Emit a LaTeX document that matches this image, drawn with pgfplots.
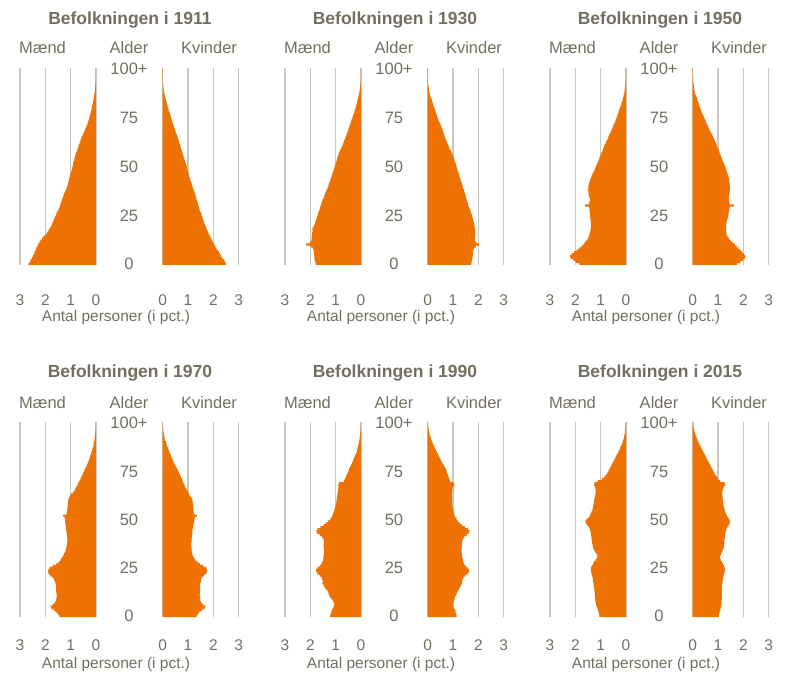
\documentclass[border=0pt]{standalone}
\usepackage{pgfplots}
\usepackage{pgfplotstable}
\pgfplotsset{compat=1.18}
\usepackage{fontspec}
\setmainfont{Liberation Sans}
\definecolor{bar}{RGB}{238,114,3}
\definecolor{txt}{RGB}{115,111,96}
\definecolor{grd}{RGB}{200,200,190}

\pgfplotstableread{
age m11 f11 m30 f30 m50 f50 m70 f70 m90 f90 m15 f15
0 2.67 2.50 1.79 1.71 1.84 1.76 1.45 1.34 1.22 1.14 1.05 1.03
1 2.60 2.46 1.80 1.73 1.98 1.88 1.50 1.40 1.20 1.12 1.06 1.04
2 2.58 2.42 1.83 1.75 2.08 1.98 1.56 1.45 1.17 1.10 1.08 1.06
3 2.52 2.36 1.84 1.76 2.18 2.06 1.65 1.55 1.15 1.08 1.10 1.08
4 2.49 2.31 1.84 1.77 2.22 2.08 1.76 1.65 1.11 1.04 1.13 1.10
5 2.45 2.26 1.85 1.78 2.15 2.03 1.79 1.68 1.07 1.00 1.16 1.12
6 2.42 2.22 1.86 1.79 2.05 1.96 1.70 1.60 1.05 0.99 1.18 1.13
7 2.38 2.17 1.87 1.80 1.95 1.89 1.62 1.52 1.08 1.01 1.20 1.14
8 2.36 2.12 1.89 1.82 1.86 1.81 1.58 1.49 1.12 1.04 1.21 1.14
9 2.31 2.08 1.98 1.90 1.76 1.73 1.56 1.48 1.17 1.06 1.22 1.15
10 2.28 2.03 2.17 2.03 1.68 1.66 1.55 1.47 1.22 1.08 1.22 1.15
11 2.24 1.99 2.02 1.92 1.62 1.58 1.54 1.46 1.26 1.12 1.23 1.15
12 2.20 1.95 1.96 1.86 1.56 1.50 1.56 1.47 1.29 1.15 1.24 1.15
13 2.14 1.92 1.95 1.86 1.51 1.43 1.57 1.48 1.32 1.18 1.25 1.15
14 2.08 1.88 1.94 1.87 1.48 1.38 1.57 1.48 1.38 1.23 1.25 1.15
15 1.99 1.84 1.94 1.87 1.45 1.34 1.58 1.47 1.45 1.28 1.26 1.15
16 1.93 1.80 1.93 1.88 1.43 1.33 1.57 1.47 1.48 1.32 1.27 1.16
17 1.88 1.77 1.90 1.86 1.41 1.32 1.60 1.49 1.52 1.36 1.28 1.17
18 1.84 1.73 1.92 1.87 1.40 1.32 1.63 1.51 1.50 1.35 1.30 1.18
19 1.79 1.70 1.88 1.85 1.39 1.32 1.66 1.52 1.53 1.39 1.31 1.19
20 1.75 1.67 1.84 1.84 1.39 1.32 1.71 1.55 1.56 1.42 1.32 1.20
21 1.72 1.64 1.82 1.82 1.39 1.33 1.80 1.63 1.63 1.49 1.34 1.22
22 1.68 1.62 1.79 1.80 1.40 1.35 1.87 1.71 1.72 1.58 1.36 1.24
23 1.65 1.59 1.76 1.78 1.41 1.37 1.89 1.75 1.76 1.63 1.38 1.26
24 1.61 1.56 1.73 1.76 1.41 1.39 1.88 1.74 1.77 1.64 1.39 1.27
25 1.58 1.54 1.71 1.74 1.42 1.41 1.82 1.70 1.70 1.57 1.38 1.26
26 1.55 1.51 1.69 1.71 1.43 1.42 1.70 1.60 1.62 1.50 1.35 1.23
27 1.52 1.48 1.66 1.69 1.44 1.43 1.56 1.47 1.56 1.44 1.30 1.19
28 1.48 1.46 1.63 1.66 1.44 1.44 1.47 1.38 1.52 1.41 1.26 1.15
29 1.45 1.43 1.61 1.64 1.46 1.46 1.40 1.29 1.50 1.39 1.20 1.10
30 1.42 1.41 1.58 1.61 1.62 1.63 1.36 1.23 1.49 1.37 1.15 1.08
31 1.40 1.39 1.56 1.59 1.46 1.46 1.31 1.19 1.48 1.36 1.13 1.08
32 1.37 1.37 1.53 1.57 1.44 1.44 1.27 1.17 1.47 1.35 1.16 1.11
33 1.34 1.34 1.51 1.54 1.42 1.43 1.23 1.15 1.46 1.34 1.21 1.15
34 1.31 1.32 1.48 1.52 1.44 1.43 1.20 1.14 1.46 1.34 1.25 1.18
35 1.29 1.30 1.45 1.50 1.47 1.43 1.18 1.14 1.47 1.34 1.29 1.21
36 1.26 1.27 1.42 1.48 1.48 1.45 1.16 1.13 1.48 1.35 1.31 1.23
37 1.22 1.25 1.39 1.45 1.49 1.46 1.15 1.13 1.48 1.36 1.32 1.24
38 1.19 1.22 1.36 1.43 1.50 1.47 1.14 1.13 1.46 1.35 1.34 1.25
39 1.16 1.20 1.32 1.40 1.49 1.47 1.13 1.14 1.47 1.37 1.35 1.25
40 1.13 1.17 1.29 1.38 1.49 1.47 1.13 1.14 1.49 1.41 1.36 1.26
41 1.11 1.14 1.27 1.35 1.47 1.46 1.14 1.15 1.53 1.45 1.37 1.27
42 1.09 1.12 1.24 1.33 1.45 1.45 1.15 1.16 1.62 1.54 1.38 1.28
43 1.07 1.09 1.21 1.30 1.42 1.44 1.16 1.17 1.73 1.62 1.40 1.29
44 1.05 1.07 1.19 1.28 1.39 1.43 1.17 1.17 1.76 1.65 1.41 1.31
45 1.03 1.04 1.16 1.25 1.36 1.41 1.18 1.18 1.72 1.60 1.43 1.33
46 1.01 1.02 1.13 1.23 1.33 1.38 1.19 1.20 1.60 1.47 1.46 1.37
47 0.99 1.00 1.11 1.21 1.29 1.36 1.20 1.21 1.48 1.36 1.52 1.42
48 0.96 0.98 1.08 1.18 1.25 1.33 1.21 1.23 1.39 1.28 1.57 1.46
49 0.94 0.96 1.06 1.16 1.22 1.31 1.22 1.24 1.30 1.20 1.60 1.48
50 0.92 0.95 1.03 1.14 1.18 1.28 1.22 1.25 1.22 1.14 1.56 1.45
51 0.90 0.92 1.01 1.11 1.15 1.25 1.24 1.27 1.17 1.10 1.48 1.39
52 0.89 0.90 0.99 1.09 1.12 1.22 1.30 1.35 1.13 1.06 1.43 1.35
53 0.87 0.88 0.96 1.06 1.09 1.18 1.16 1.24 1.10 1.04 1.40 1.31
54 0.85 0.85 0.94 1.04 1.06 1.15 1.14 1.22 1.07 1.02 1.36 1.28
55 0.83 0.83 0.92 1.01 1.03 1.12 1.13 1.21 1.05 0.99 1.33 1.26
56 0.80 0.81 0.89 0.98 1.00 1.09 1.13 1.21 1.03 0.98 1.31 1.24
57 0.78 0.78 0.86 0.94 0.97 1.06 1.12 1.20 1.01 0.97 1.30 1.22
58 0.75 0.76 0.83 0.91 0.93 1.03 1.11 1.19 0.99 0.96 1.28 1.21
59 0.73 0.73 0.79 0.87 0.90 1.00 1.10 1.18 0.97 0.95 1.27 1.20
60 0.70 0.71 0.76 0.84 0.87 0.97 1.09 1.17 0.96 0.95 1.26 1.19
61 0.68 0.69 0.73 0.81 0.84 0.94 1.07 1.14 0.95 0.95 1.24 1.18
62 0.65 0.66 0.70 0.78 0.80 0.91 1.03 1.09 0.94 0.95 1.22 1.17
63 0.62 0.64 0.67 0.75 0.77 0.88 0.98 1.04 0.93 0.96 1.21 1.17
64 0.60 0.61 0.64 0.71 0.73 0.85 0.90 0.99 0.91 0.96 1.20 1.17
65 0.57 0.59 0.61 0.68 0.70 0.82 0.84 0.96 0.90 0.96 1.20 1.18
66 0.53 0.56 0.58 0.66 0.67 0.78 0.81 0.93 0.89 0.98 1.21 1.20
67 0.50 0.53 0.55 0.63 0.63 0.74 0.77 0.89 0.89 1.01 1.23 1.23
68 0.46 0.50 0.52 0.60 0.60 0.70 0.73 0.86 0.89 1.05 1.26 1.28
69 0.43 0.48 0.50 0.58 0.56 0.66 0.70 0.82 0.86 1.02 1.24 1.26
70 0.39 0.45 0.47 0.55 0.53 0.62 0.66 0.79 0.68 0.89 1.10 1.08
71 0.36 0.43 0.44 0.52 0.50 0.59 0.62 0.76 0.64 0.86 0.95 0.99
72 0.33 0.40 0.42 0.49 0.46 0.55 0.58 0.72 0.60 0.83 0.85 0.95
73 0.31 0.38 0.39 0.45 0.43 0.52 0.54 0.69 0.57 0.80 0.79 0.90
74 0.28 0.35 0.37 0.42 0.40 0.48 0.51 0.65 0.53 0.77 0.74 0.86
75 0.26 0.33 0.34 0.39 0.37 0.45 0.47 0.62 0.50 0.75 0.70 0.82
76 0.24 0.31 0.31 0.36 0.34 0.42 0.44 0.58 0.47 0.72 0.66 0.78
77 0.22 0.28 0.29 0.34 0.32 0.38 0.40 0.54 0.43 0.68 0.62 0.74
78 0.20 0.26 0.26 0.31 0.29 0.35 0.37 0.50 0.40 0.64 0.58 0.70
79 0.18 0.23 0.24 0.29 0.27 0.32 0.33 0.46 0.36 0.59 0.54 0.66
80 0.17 0.21 0.21 0.26 0.24 0.29 0.30 0.42 0.33 0.55 0.50 0.62
81 0.15 0.19 0.19 0.23 0.21 0.26 0.27 0.39 0.30 0.51 0.46 0.58
82 0.13 0.17 0.17 0.21 0.18 0.24 0.24 0.35 0.27 0.47 0.42 0.54
83 0.11 0.15 0.15 0.18 0.16 0.21 0.22 0.32 0.23 0.43 0.38 0.50
84 0.10 0.13 0.13 0.16 0.13 0.18 0.19 0.29 0.20 0.40 0.34 0.46
85 0.08 0.11 0.11 0.13 0.11 0.16 0.17 0.26 0.17 0.36 0.30 0.42
86 0.07 0.09 0.09 0.11 0.09 0.13 0.15 0.23 0.15 0.32 0.26 0.38
87 0.06 0.08 0.08 0.09 0.08 0.11 0.12 0.20 0.13 0.28 0.23 0.34
88 0.05 0.06 0.06 0.07 0.06 0.09 0.10 0.17 0.11 0.25 0.19 0.30
89 0.04 0.05 0.05 0.06 0.05 0.07 0.09 0.15 0.09 0.21 0.16 0.26
90 0.03 0.04 0.04 0.05 0.04 0.06 0.08 0.13 0.08 0.18 0.13 0.22
91 0.025 0.03 0.03 0.04 0.03 0.05 0.06 0.10 0.06 0.15 0.11 0.19
92 0.02 0.025 0.02 0.03 0.02 0.04 0.05 0.08 0.05 0.13 0.08 0.16
93 0.015 0.02 0.015 0.02 0.015 0.03 0.04 0.07 0.04 0.10 0.07 0.13
94 0.012 0.015 0.01 0.015 0.01 0.025 0.03 0.05 0.03 0.08 0.05 0.11
95 0.01 0.01 0.01 0.01 0.008 0.02 0.02 0.04 0.02 0.07 0.04 0.09
96 0.007 0.007 0.006 0.008 0.006 0.015 0.015 0.03 0.015 0.05 0.03 0.07
97 0.005 0.005 0.004 0.006 0.004 0.01 0.01 0.02 0.01 0.04 0.02 0.05
98 0.003 0.003 0.003 0.004 0.003 0.007 0.007 0.015 0.007 0.03 0.015 0.04
99 0.002 0.002 0.002 0.003 0.002 0.005 0.005 0.01 0.005 0.02 0.01 0.03
100 0.002 0.002 0.002 0.003 0.002 0.004 0.004 0.01 0.004 0.02 0.01 0.03
}\pop

\pgfplotsset{
  pyr/.style={
    scale only axis, width=76pt,
    xmin=0, xmax=3, ymin=-0.5, ymax=100.5,
    axis line style={draw=none}, major tick length=0pt,
    xtick={0,1,2,3}, xticklabels={0,1,2,3},
    xmajorgrids, grid style={grd, line width=1.1pt},
    /pgf/number format/assume math mode=true,
    xticklabel style={anchor=base, font=\fontsize{15.5}{18}\selectfont, text=txt},
    xbar, bar width=1.1,
  },
  male/.style={pyr, x dir=reverse, ytick=\empty},
  female/.style={pyr, ytick={0,25,50,75,100}, yticklabels={0,25,50,75,100+},
    yticklabel style={anchor=base, xshift=-33.7pt, yshift=-5.9pt,
      font=\fontsize{16.5}{19}\selectfont, text=txt}},
  row1/.style={height=197pt, xticklabel style={yshift=-41pt}},
  row2/.style={height=195pt, xticklabel style={yshift=-33pt}},
}

\newcommand{\pan}[6]{% male x, female x, bottom y, male col, female col, row style
  \begin{axis}[male, #6, at={(#1pt,#3pt)}, anchor=south west]
    \addplot[fill=bar, draw=none] table[x=#4, y=age] {\pop};
  \end{axis}
  \begin{axis}[female, #6, at={(#2pt,#3pt)}, anchor=south west]
    \addplot[fill=bar, draw=none] table[x=#5, y=age] {\pop};
  \end{axis}
}

\newcommand{\labs}[4]{% dx, title baseline y, header baseline y, xlabel baseline y; #5 year
}
\newcommand{\ptext}[5]{% dx, title y, header y, xlabel y, year
  \node[anchor=base, text=txt, font=\bfseries\fontsize{17.5}{20}\selectfont] at (130+#1, #2) {Befolkningen i #5};
  \node[anchor=base, text=txt, font=\fontsize{16.5}{19}\selectfont] at (42.5+#1, #3) {Mænd};
  \node[anchor=base, text=txt, font=\fontsize{16.5}{19}\selectfont] at (129+#1, #3) {Alder};
  \node[anchor=base, text=txt, font=\fontsize{16.5}{19}\selectfont] at (209+#1, #3) {Kvinder};
  \node[anchor=base, text=txt, font=\fontsize{15.5}{18}\selectfont] at (116+#1, #4) {Antal personer (i pct.)};
}

\begin{document}
\begin{tikzpicture}[x=1pt,y=1pt]
\path[use as bounding box] (0,0) rectangle (788,681);
\pan{20}{162.7}{416}{m11}{f11}{row1}
\pan{285}{427.7}{416}{m30}{f30}{row1}
\pan{550}{692.7}{416}{m50}{f50}{row1}
\pan{20}{162.7}{64}{m70}{f70}{row2}
\pan{285}{427.7}{64}{m90}{f90}{row2}
\pan{550}{692.7}{64}{m15}{f15}{row2}
\ptext{0}{656}{627.7}{359}{1911}
\ptext{265}{656}{627.7}{359}{1930}
\ptext{530}{656}{627.7}{359}{1950}
\ptext{0}{303.3}{272.7}{13}{1970}
\ptext{265}{303.3}{272.7}{13}{1990}
\ptext{530}{303.3}{272.7}{13}{2015}
\end{tikzpicture}
\end{document}
